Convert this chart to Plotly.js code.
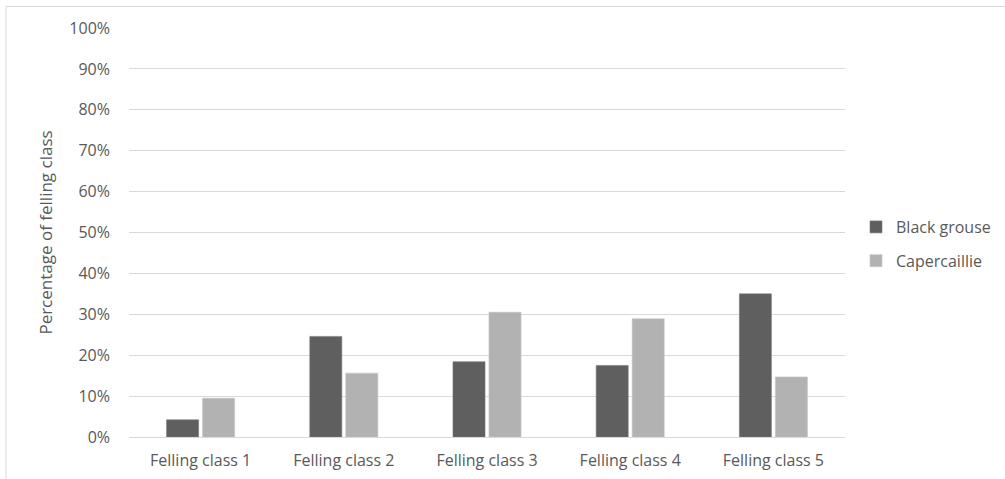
<!DOCTYPE html>
<html>
<head>
<meta charset="utf-8">
<script src="https://cdn.plot.ly/plotly-3.0.1.min.js"></script>
<style>
  html, body { margin: 0; padding: 0; background: #ffffff; }
  #chart { width: 1005px; height: 479px; }
</style>
</head>
<body>
<div id="chart"></div>
<script>
// Share of each felling class used by the two grouse species
const categories = ['Felling class 1', 'Felling class 2', 'Felling class 3', 'Felling class 4', 'Felling class 5'];
const blackGrouse = [0.042, 0.246, 0.184, 0.175, 0.350];
const capercaillie = [0.095, 0.156, 0.305, 0.289, 0.147];
const seriesNames = ['Black grouse', 'Capercaillie'];
const yTickValues = [0, 0.1, 0.2, 0.3, 0.4, 0.5, 0.6, 0.7, 0.8, 0.9, 1.0];

const W = 1005, H = 479;
const margin = { l: 129, r: 160, t: 28, b: 42, autoexpand: false };
const plotW = W - margin.l - margin.r;
const plotH = H - margin.t - margin.b;
// convert pixel positions to paper fractions for the frame
const px = x => (x - margin.l) / plotW;
const py = y => (H - margin.b - y) / plotH;

const fontFamily = '"Open Sans", Lato, sans-serif';
const textGrey = '#595959';
const fontSize = 16;

const traces = [
  {
    type: 'bar', name: seriesNames[0], x: categories, y: blackGrouse,
    legendgroup: 'a',
    marker: { color: '#5f5f5f', line: { color: '#7a7a7a', width: 0.6 } },
    hoverinfo: 'x+y'
  },
  {
    type: 'bar', name: seriesNames[1], x: categories, y: capercaillie,
    legendgroup: 'b',
    marker: { color: '#b2b2b2', line: { color: '#c4c4c4', width: 0.6 } },
    hoverinfo: 'x+y'
  }
];

const layout = {
  width: W, height: H,
  margin: margin,
  paper_bgcolor: '#ffffff',
  plot_bgcolor: '#ffffff',
  barmode: 'group',
  bargap: 0.497,
  bargroupgap: 0.11,
  font: { family: fontFamily, size: fontSize, color: textGrey },
  xaxis: {
    type: 'category',
    showgrid: false,
    showline: false,
    zeroline: false,
    ticks: '',
    ticklabelstandoff: 12,
    tickfont: { family: fontFamily, size: fontSize, color: textGrey },
    fixedrange: true
  },
  yaxis: {
    range: [0, 1],
    tickvals: yTickValues,
    tickformat: '.0%',
    showgrid: true,
    gridcolor: '#d9d9d9',
    gridwidth: 1,
    zeroline: true,
    zerolinecolor: '#d9d9d9',
    zerolinewidth: 1,
    showline: false,
    ticks: '',
    ticklabelstandoff: 18,
    tickfont: { family: fontFamily, size: fontSize, color: textGrey },
    title: { text: 'Percentage of felling class', font: { family: fontFamily, size: 17, color: textGrey }, standoff: 12 },
    fixedrange: true
  },
  legend: {
    x: px(856), y: py(210), xanchor: 'left', yanchor: 'top',
    font: { family: fontFamily, size: fontSize, color: textGrey },
    itemwidth: 30,
    traceorder: 'grouped',
    tracegroupgap: 10,
    bgcolor: 'rgba(0,0,0,0)'
  },
  shapes: [
    {
      type: 'rect', xref: 'paper', yref: 'paper',
      x0: px(6), x1: px(1010), y0: py(485), y1: py(6.5),
      line: { color: '#d9d9d9', width: 1 }, fillcolor: 'rgba(0,0,0,0)', layer: 'below'
    }
  ],
  showlegend: true
};

Plotly.newPlot('chart', traces, layout, { displayModeBar: false, staticPlot: true });
</script>
</body>
</html>
